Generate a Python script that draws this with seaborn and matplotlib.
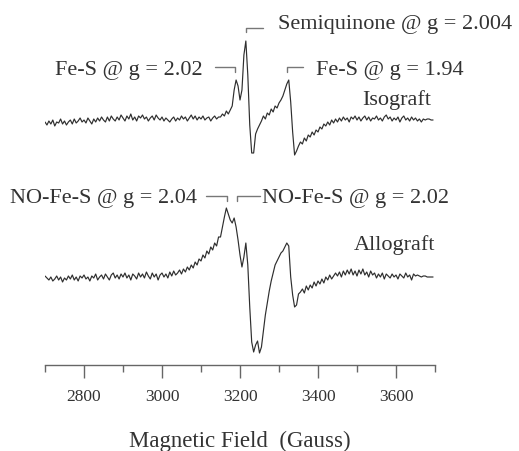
import numpy as np
import pandas as pd
import matplotlib
matplotlib.use("Agg")
import matplotlib.pyplot as plt
import seaborn as sns

# Magnetic field sweep (Gauss)
FIELD = [
    2700, 2705, 2710, 2715, 2720, 2725, 2730, 2735, 2740, 2745,
    2750, 2755, 2760, 2765, 2770, 2775, 2780, 2785, 2790, 2795,
    2800, 2805, 2810, 2815, 2820, 2825, 2830, 2835, 2840, 2845,
    2850, 2855, 2860, 2865, 2870, 2875, 2880, 2885, 2890, 2895,
    2900, 2905, 2910, 2915, 2920, 2925, 2930, 2935, 2940, 2945,
    2950, 2955, 2960, 2965, 2970, 2975, 2980, 2985, 2990, 2995,
    3000, 3005, 3010, 3015, 3020, 3025, 3030, 3035, 3040, 3045,
    3050, 3055, 3060, 3065, 3070, 3075, 3080, 3085, 3090, 3095,
    3100, 3105, 3110, 3115, 3120, 3125, 3130, 3135, 3140, 3145,
    3150, 3155, 3160, 3165, 3170, 3175, 3180, 3185, 3190, 3195,
    3200, 3205, 3210, 3215, 3220, 3225, 3230, 3235, 3240, 3245,
    3250, 3255, 3260, 3265, 3270, 3275, 3280, 3285, 3290, 3295,
    3300, 3305, 3310, 3315, 3320, 3325, 3330, 3335, 3340, 3345,
    3350, 3355, 3360, 3365, 3370, 3375, 3380, 3385, 3390, 3395,
    3400, 3405, 3410, 3415, 3420, 3425, 3430, 3435, 3440, 3445,
    3450, 3455, 3460, 3465, 3470, 3475, 3480, 3485, 3490, 3495,
    3500, 3505, 3510, 3515, 3520, 3525, 3530, 3535, 3540, 3545,
    3550, 3555, 3560, 3565, 3570, 3575, 3580, 3585, 3590, 3595,
    3600, 3605, 3610, 3615, 3620, 3625, 3630, 3635, 3640, 3645,
    3650, 3655, 3660, 3665, 3670, 3675, 3680, 3685, 3690, 3695,
]

# EPR signal (arbitrary units) - Isograft
ISOGRAFT = [
    -2, -5, -1, -4, 0, -6, -2, -3, 1, -4,
    -1, -5, -2, 0, -4, 1, -3, -1, 2, -2,
    0, -3, 2, -1, -4, 1, -2, 2, -1, 3,
    0, -2, 3, -1, 4, 1, -1, 3, 0, 5,
    2, -1, 4, 1, 6, 0, 3, -1, 4, 2,
    5, 1, 3, -1, 2, 4, 0, 5, 2, 0,
    3, -1, 2, 0, -2, 1, 3, -1, 2, 0,
    4, 1, 3, -1, 2, 5, 1, 4, 0, 3,
    1, 4, 0, 2, 3, -1, 2, 4, 1, 3,
    3, 6, 4, 9, 6, 10, 14, 30, 40, 34,
    20, 30, 65, 79, 45, -5, -33, -33, -14, -9,
    -5, -1, 4, 1, 7, 5, 11, 8, 14, 12,
    17, 20, 24, 30, 36, 40, 18, -12, -35, -31,
    -26, -22, -24, -18, -21, -15, -17, -12, -15, -10,
    -12, -7, -9, -4, -6, -2, -5, 0, -3, 1,
    -2, 2, -1, 3, 0, 2, -2, 3, 1, 4,
    0, 3, -1, 2, 4, 0, 3, -1, 2, 1,
    4, 0, 2, -1, 3, 5, 1, 3, -1, 2,
    0, 3, -2, 2, 4, 0, 2, -1, 3, 0,
    2, -1, 1, -2, 1, 0, 1, 1, 0, 0,
]

# EPR signal (arbitrary units) - Allograft
ALLOGRAFT = [
    1, -1, -3, 0, -4, -2, 1, -3, 0, -5,
    -1, -3, 1, -2, 2, -3, 0, -4, 1, -1,
    2, -2, 0, -4, 1, -1, 3, -3, 0, 2,
    -2, 3, 0, -3, 2, 4, -1, 2, -2, 3,
    0, 4, -1, 2, -3, 3, 1, -2, 4, 0,
    3, -1, 5, 1, -2, 4, 0, 3, -3, 2,
    4, 0, 3, -1, 5, 1, 6, 2, 4, 7,
    3, 8, 5, 10, 7, 12, 9, 15, 12, 18,
    16, 22, 19, 26, 23, 30, 27, 34, 31, 40,
    40, 50, 60, 69, 63, 57, 54, 59, 50, 37,
    22, 10, 20, 34, 12, -30, -65, -75, -68, -64,
    -76, -70, -54, -38, -26, -14, -4, 4, 12, 16,
    20, 24, 26, 30, 34, 31, 0, -18, -30, -28,
    -17, -15, -12, -16, -9, -13, -8, -11, -5, -9,
    -4, -7, -2, -6, 0, -3, 2, -2, 1, 4,
    1, 5, 0, 6, 2, 7, 3, 8, 2, 6,
    1, 7, 3, 8, 2, 5, 0, 6, 2, 4,
    -1, 3, 0, 4, -2, 3, 1, -1, 3, 0,
    2, -2, 3, 1, -1, 4, 0, 2, -3, 3,
    1, 2, 1, 0, 1, 1, 0, 0, 0, 0,
]

SAMPLES = ["Isograft", "Allograft"]
MAJOR_TICKS = [2800, 3000, 3200, 3400, 3600]
MINOR_TICKS = [2700, 2900, 3100, 3300, 3500, 3700]
XLABEL = "Magnetic Field  (Gauss)"

ISO_LABELS = ["Fe-S @ g = 2.02", "Semiquinone @ g = 2.004", "Fe-S @ g = 1.94"]
ALLO_LABELS = ["NO-Fe-S @ g = 2.04", "NO-Fe-S @ g = 2.02"]

# vertical stacking offsets (layout)
ISO_OFFSET = 245
ALLO_OFFSET = 88

sns.set_theme(style="white")
plt.rcParams["font.family"] = ["Liberation Serif", "DejaVu Serif"]

fig = plt.figure(figsize=(5.19, 4.51), dpi=100)
ax = fig.add_axes([45 / 519, 86 / 451, 390 / 519, 365 / 451])

df = pd.DataFrame({
    "field": FIELD * 2,
    "signal": [v + ISO_OFFSET for v in ISOGRAFT] + [v + ALLO_OFFSET for v in ALLOGRAFT],
    "sample": [SAMPLES[0]] * len(FIELD) + [SAMPLES[1]] * len(FIELD),
})
sns.lineplot(data=df, x="field", y="signal", units="sample", estimator=None,
             color="#2e2e2e", linewidth=0.85, ax=ax, legend=False)

ax.set_xlim(2700, 3700)
ax.set_ylim(0, 365)
for s in ["top", "right", "left"]:
    ax.spines[s].set_visible(False)
ax.spines["bottom"].set_color("#666666")
ax.spines["bottom"].set_linewidth(1.0)
ax.set_yticks([])
ax.set_ylabel("")
ax.set_xticks(MAJOR_TICKS)
ax.set_xticks(MINOR_TICKS, minor=True)
ax.set_xticklabels([str(t) for t in MAJOR_TICKS])
ax.tick_params(axis="x", which="major", direction="out", length=9, width=1.0,
               color="#666666", labelsize=12.5, labelcolor="#333333", pad=8, bottom=True)
ax.tick_params(axis="x", which="minor", direction="out", length=5, width=1.0,
               color="#666666", bottom=True)
ax.set_xlabel(XLABEL, fontsize=16.5, color="#333333", labelpad=19)

txt = dict(fontsize=16, color="#333333", va="center", ha="left", clip_on=False)
bcol = dict(color="#777777", lw=1.0, clip_on=False)

# Isograft annotations
ax.text(2726, 294, ISO_LABELS[0], **txt)
ax.plot([3136, 3187, 3187], [298, 298, 293], **bcol)
ax.text(3297, 341, ISO_LABELS[1], **txt)
ax.plot([3215, 3215, 3259], [333, 337, 337], **bcol)
ax.text(3395, 294, ISO_LABELS[2], **txt)
ax.plot([3321, 3321, 3362], [293, 298, 298], **bcol)
ax.text(3513, 265, SAMPLES[0], **txt)

# Allograft annotations
ax.text(2610, 167, ALLO_LABELS[0], **txt)
ax.plot([3113, 3167, 3167], [169, 169, 164], **bcol)
ax.text(3256, 167, ALLO_LABELS[1], **txt)
ax.plot([3192, 3192, 3251], [164, 169, 169], **bcol)
ax.text(3492, 120, SAMPLES[1], **txt)

fig.savefig("out.png", dpi=100)
